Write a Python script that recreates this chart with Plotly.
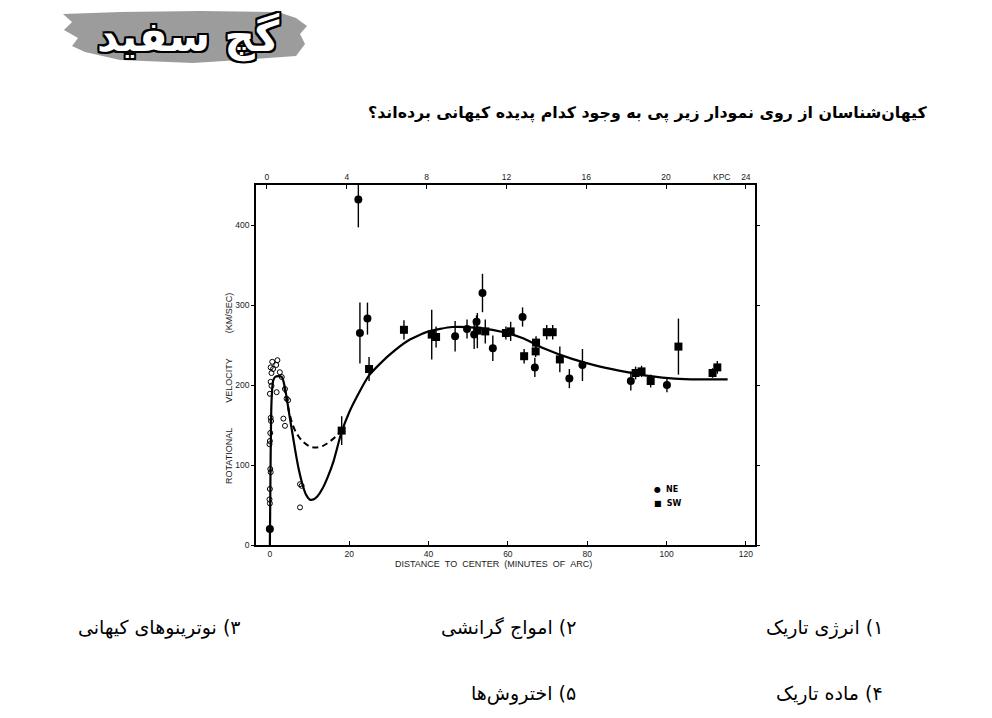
import plotly.graph_objects as go

# ---------------- data ----------------
# inner (optical) points, open circles: distance (arcmin), velocity (km/s)
inner_x = [0.6, 1.9, 0.2, 1.6, 0.8, 0.4, 2.5, 3.0, 0.2, 0.4,
           1.7, 0.0, 3.8, 4.2, 4.6, 3.4, 3.8, 0.2, 0.3, 0.1,
           0.0, -0.1, 0.1, 0.2, 0.0, -0.1, 0.0, 7.6, 8.0, 7.6]
inner_v = [229, 231, 222, 225, 220, 215, 216, 210, 204, 199,
           191, 189, 195, 183, 181, 158, 149, 159, 155, 140,
           130, 126, 95, 91, 70, 57, 52, 76, 74, 47]

# NE side (filled circles) with error half-widths
ne_x = [0.0, 22.3, 22.7, 24.6, 46.7, 49.7, 51.5, 52.1, 53.6, 56.2,
        63.7, 66.8, 75.5, 78.8, 91.0, 100.1]
ne_v = [20, 432, 265, 283, 261, 270, 263, 279, 315, 246,
        285, 222, 208, 225, 205, 200]
ne_err = [0, 35, 38, 20, 19, 12, 18, 8, 24, 16,
          12, 12, 12, 20, 12, 9]

# SW side (filled squares) with error half-widths
sw_x = [18.1, 25.0, 33.8, 40.8, 41.9, 52.3, 54.3, 59.5, 60.7, 64.1,
        67.0, 67.1, 69.8, 71.3, 73.1, 92.2, 93.7, 96.0, 103.0, 111.6, 112.8]
sw_v = [143, 220, 269, 263, 260, 268, 267, 265, 267, 236,
        242, 253, 266, 266, 232, 215, 217, 205, 248, 215, 222]
sw_err = [18, 15, 12, 31, 13, 22, 15, 8, 12, 9,
          7, 8, 9, 9, 16, 8, 7, 8, 35, 6, 8]

# solid model curve
curve_x = [0, 0.15, 0.4, 0.8, 1.3, 2.2, 3.0, 3.5, 4.1, 4.8,
           5.6, 6.4, 7.3, 8.2, 9.1, 10.0, 11.0, 12.0, 13.2, 14.5,
           16.0, 18.0, 20.0, 22.0, 25.0, 30.0, 35.0, 40.0, 46.0, 53.0,
           59.0, 64.0, 69.0, 76.0, 82.0, 88.0, 96.0, 102.0, 108.0, 115.4]
curve_v = [0, 90, 178, 205, 210, 211, 210, 203, 188, 166,
           142, 118, 94, 76, 63, 57, 57, 61, 70, 84,
           104, 140, 166, 186, 212, 237, 256, 267, 272.5, 271,
           266, 258, 246, 233, 224.5, 218, 211, 208, 207, 207]

# dashed alternative curve
dash_x = [3.6, 4.3, 5.0, 6.0, 7.2, 8.6, 10.2, 11.8, 13.4, 15.0, 16.5, 17.8]
dash_v = [198, 180, 163, 147, 136, 128, 123, 122, 124, 129, 135, 142]

x_ticks = [0, 20, 40, 60, 80, 100, 120]
y_ticks = [0, 100, 200, 300, 400]
kpc_ticks = [0, 4, 8, 12, 16, 20, 24]

question = "کیهان‌شناسان از روی نمودار زیر پی به وجود کدام پدیده کیهانی برده‌اند؟"
options = ["۱) انرژی تاریک", "۲) امواج گرانشی", "۳) نوترینوهای کیهانی",
           "۴) ماده تاریک", "۵) اختروش‌ها"]
logo_text = "گچ سفید"

# ---------------- layout geometry ----------------
W, H = 992, 718
PL, PR, PT, PB = 256, 755, 185, 545


def px(x):
    return (x - PL) / (PR - PL)


def py(y):
    return (PB - y) / (PB - PT)


fig = go.Figure()

fig.add_trace(go.Scatter(x=curve_x, y=curve_v, mode="lines",
                         line=dict(color="black", width=2.2, shape="spline", smoothing=0.6),
                         hoverinfo="skip", showlegend=False))
fig.add_trace(go.Scatter(x=dash_x, y=dash_v, mode="lines",
                         line=dict(color="black", width=2, dash="6px,4px", shape="spline"),
                         hoverinfo="skip", showlegend=False))
fig.add_trace(go.Scatter(x=inner_x, y=inner_v, mode="markers",
                         marker=dict(symbol="circle-open", size=5, color="black",
                                     line=dict(width=1, color="black")),
                         showlegend=False))
fig.add_trace(go.Scatter(x=ne_x, y=ne_v, mode="markers", name="NE",
                         marker=dict(symbol="circle", size=8, color="black"),
                         error_y=dict(type="data", array=ne_err, visible=True,
                                      thickness=1.4, width=0, color="black"),
                         showlegend=False))
fig.add_trace(go.Scatter(x=sw_x, y=sw_v, mode="markers", name="SW",
                         marker=dict(symbol="square", size=8, color="black"),
                         error_y=dict(type="data", array=sw_err, visible=True,
                                      thickness=1.4, width=0, color="black"),
                         showlegend=False))
# dummy trace for the top kpc axis
fig.add_trace(go.Scatter(x=[kpc_ticks[0]], y=[None], xaxis="x2", mode="markers",
                         showlegend=False, hoverinfo="skip"))

tickfont = dict(family="Liberation Sans, Arial, sans-serif", size=8.5, color="#1a1a1a")

x0, x1 = -3.5, 122.3
k = 24 / 120.75
fig.update_layout(
    width=W, height=H,
    margin=dict(l=PL, r=W - PR, t=PT, b=H - PB, pad=0),
    paper_bgcolor="white", plot_bgcolor="white",
    xaxis=dict(range=[x0, x1], tickvals=x_ticks, ticks="inside", ticklen=4,
               tickwidth=1, tickcolor="black", showline=True, linecolor="black",
               linewidth=1.5, showgrid=False, zeroline=False, tickfont=tickfont),
    xaxis2=dict(range=[(x0 + 0.75) * k, (x1 + 0.75) * k], overlaying="x", side="top",
                tickvals=kpc_ticks, ticks="inside", ticklen=4, tickwidth=1,
                tickcolor="black", showline=True, linecolor="black", linewidth=1.5,
                showgrid=False, zeroline=False, tickfont=tickfont),
    yaxis=dict(range=[0, 450], tickvals=y_ticks, ticks="outside", ticklen=3,
               tickwidth=1, tickcolor="black", showline=True, mirror="ticks",
               linecolor="black", linewidth=1.5, showgrid=False, zeroline=False,
               tickfont=tickfont),
    font=dict(family="DejaVu Sans"),
)

ann = []


def add_text(x, y, text, font, xanchor="center", **kw):
    ann.append(dict(x=px(x), y=py(y), xref="paper", yref="paper", showarrow=False,
                    xanchor=xanchor, yanchor="middle", text=text, font=font, **kw))


lab = dict(family="Liberation Sans, Arial, sans-serif", size=8.5, color="#1a1a1a")
sp = "\u00a0"
RLM = "\u200f"  # right-to-left mark: lay the Persian lines out right-to-left
# axis titles
add_text(493, 564, "DISTANCE" + sp * 2 + "TO" + sp * 2 + "CENTER" + sp * 2 + "(MINUTES" + sp * 2 + "OF" + sp * 2 + "ARC)",
         dict(lab, size=9))
add_text(229, 389, "ROTATIONAL" + sp * 10 + "VELOCITY" + sp * 10 + "(KM/SEC)",
         dict(lab, size=9), textangle=-90)
add_text(721, 177, "KPC", dict(lab, size=8.5))
# legend
add_text(652, 489, "●" + sp + " <b>NE</b>", dict(family="DejaVu Sans", size=8, color="black"),
         xanchor="left")
add_text(652, 503, "■" + sp + " <b>SW</b>", dict(family="DejaVu Sans", size=8, color="black"),
         xanchor="left")

# question text
add_text(930, 113, "<b>" + RLM + question + "</b>",
         dict(family="DejaVu Sans", size=15.8, color="black"), xanchor="right")
# options, right aligned (number at the right end)
opt_font = dict(family="DejaVu Sans", size=19, color="black")
opt_right = [885, 578, 243, 885, 578]
opt_y = [627, 627, 627, 693, 693]
for t, rx, oy in zip(options, opt_right, opt_y):
    add_text(rx, oy, RLM + t, opt_font, xanchor="right")

# logo text
add_text(188, 37, "<b>" + logo_text + "</b>",
         dict(family="DejaVu Sans", size=42, color="white",
              shadow="2px 2px 0 #000, -2px -2px 0 #000, 2px -2px 0 #000, -2px 2px 0 #000, "
                     "0 2px 0 #000, 2px 0 0 #000, 0 -2px 0 #000, -2px 0 0 #000"))
fig.update_layout(annotations=ann)

# logo brush stroke
brush = [(63, 14), (120, 12), (200, 11), (278, 12), (296, 18), (307, 26), (300, 34),
         (305, 44), (296, 56), (240, 60), (193, 63), (120, 60), (85, 52), (72, 46),
         (78, 38), (64, 30), (72, 22)]
path = "M " + " L ".join(f"{px(a):.4f},{py(b):.4f}" for a, b in brush) + " Z"
fig.add_shape(type="path", path=path, xref="paper", yref="paper",
              fillcolor="#9c9c9c", line=dict(width=0), layer="below")

fig.write_html("out.html")
